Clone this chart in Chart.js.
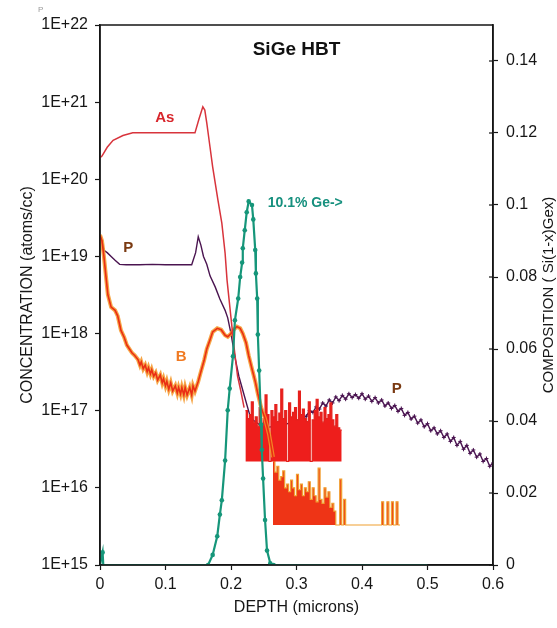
<!DOCTYPE html>
<html>
<head>
<meta charset="utf-8">
<script src="https://cdn.jsdelivr.net/npm/chart.js@4.4.1/dist/chart.umd.min.js"></script>
<style>
  body { margin: 0; background: #fff; }
  #wrap { width: 557px; height: 628px; }
</style>
</head>
<body>
<div id="wrap"><canvas id="sigeChart" width="557" height="628"></canvas></div>
<script>
// SIMS profile of a SiGe HBT
// depth in microns, concentration in atoms/cc, Ge as fraction

const asDepth = [0, 0.003, 0.011, 0.02, 0.035, 0.05, 0.08, 0.11, 0.145, 0.151, 0.157, 0.16, 0.163, 0.168, 0.172, 0.18, 0.186, 0.191, 0.194, 0.2, 0.205, 0.21, 0.215, 0.22];
const asConc = [1.9e20, 2.0e20, 2.6e20, 3.2e20, 3.7e20, 4.0e20, 4.0e20, 4.0e20, 4.0e20, 6.0e20, 8.7e20, 7.9e20, 5.4e20, 2.6e20, 1.45e20, 5.4e19, 2.7e19, 1.1e19, 4.9e18, 1.6e18, 6.3e17, 2.8e17, 1.8e17, 1.1e17];

// As at the detection limit (noisy block)
const asNoiseDepth = [0.222, 0.225, 0.228, 0.231, 0.234, 0.237, 0.24, 0.243, 0.246, 0.249, 0.252, 0.255, 0.258, 0.261, 0.264, 0.267, 0.27, 0.273, 0.276, 0.279, 0.282, 0.285, 0.288, 0.291, 0.294, 0.297, 0.3, 0.303, 0.306, 0.309, 0.312, 0.315, 0.318, 0.321, 0.324, 0.327, 0.33, 0.333, 0.336, 0.339, 0.342, 0.345, 0.348, 0.351, 0.354, 0.357, 0.36, 0.363, 0.366, 0.369];
const asNoiseConc = [1.0e17, 7.9e16, 8.9e16, 1.3e17, 7.1e16, 8.3e16, 6.3e16, 1.1e17, 6.0e16, 7.9e16, 1.6e17, 8.9e16, 2.2e16, 1.0e17, 8.3e16, 1.2e17, 7.2e16, 9.3e16, 1.9e17, 7.9e16, 1.0e17, 2.2e16, 1.26e17, 8.3e16, 9.5e16, 1.1e17, 7.6e16, 1.8e17, 8.9e16, 1.05e17, 7.9e16, 7.2e16, 1.3e17, 2.2e16, 7.6e16, 1.0e17, 1.4e17, 8.3e16, 9.5e16, 7.1e16, 1.1e17, 7.9e16, 8.9e16, 1.26e17, 7.6e16, 6.3e16, 8.9e16, 6.0e16, 5.6e16, 5.6e16];
const asFloor = 2.2e16;

const bDepth = [0, 0.003, 0.006, 0.009, 0.012, 0.017, 0.023, 0.027, 0.032, 0.037, 0.041, 0.045, 0.049, 0.053, 0.058, 0.061, 0.063, 0.066, 0.069, 0.072, 0.074, 0.077, 0.079, 0.082, 0.085, 0.088, 0.092, 0.095, 0.097, 0.1, 0.102, 0.105, 0.108, 0.111, 0.115, 0.118, 0.12, 0.123, 0.125, 0.128, 0.13, 0.133, 0.137, 0.14, 0.142, 0.145, 0.15, 0.154, 0.159, 0.163, 0.168, 0.172, 0.179, 0.185, 0.191, 0.195, 0.2, 0.205, 0.209, 0.214, 0.218, 0.223, 0.227, 0.232, 0.237, 0.241, 0.246, 0.252, 0.258, 0.264];
const bConc = [1.9e19, 1.6e19, 1.0e19, 5.6e18, 3.2e18, 2.2e18, 2.0e18, 1.7e18, 1.1e18, 8.9e17, 7.1e17, 6.3e17, 5.6e17, 5.2e17, 4.6e17, 3.9e17, 4.3e17, 3.5e17, 3.9e17, 3.2e17, 3.6e17, 3.0e17, 3.4e17, 2.8e17, 3.1e17, 2.5e17, 2.9e17, 2.3e17, 2.6e17, 2.1e17, 2.4e17, 1.9e17, 2.3e17, 1.8e17, 2.1e17, 1.7e17, 2.0e17, 1.65e17, 2.0e17, 1.6e17, 2.0e17, 1.6e17, 2.0e17, 1.6e17, 2.1e17, 1.8e17, 2.4e17, 3.2e17, 4.5e17, 6.3e17, 8.3e17, 1.05e18, 1.17e18, 1.12e18, 9.5e17, 9.1e17, 1.0e18, 1.15e18, 1.23e18, 1.17e18, 1.0e18, 7.6e17, 5.2e17, 3.5e17, 2.4e17, 1.66e17, 1.1e17, 7.9e16, 5.0e16, 2.5e16];

// B at the detection limit
const bNoiseDepth = [0.264, 0.267, 0.27, 0.273, 0.276, 0.279, 0.282, 0.285, 0.288, 0.291, 0.294, 0.297, 0.3, 0.303, 0.306, 0.309, 0.312, 0.315, 0.318, 0.321, 0.324, 0.327, 0.33, 0.333, 0.336, 0.339, 0.342, 0.345, 0.348, 0.351, 0.354, 0.357, 0.36, 0.363, 0.366, 0.369, 0.372, 0.375, 0.39, 0.41, 0.427, 0.43, 0.433, 0.438, 0.441, 0.445, 0.448, 0.452, 0.455, 0.458];
const bNoiseConc = [2.2e16, 1.6e16, 1.9e16, 1.26e16, 1.4e16, 1.66e16, 1.0e16, 1.12e16, 8.9e15, 1.26e16, 1.0e16, 7.9e15, 1.5e16, 9.5e15, 1.12e16, 7.9e15, 1.0e16, 8.9e15, 1.2e16, 7.1e15, 1.0e16, 7.9e15, 6.6e15, 1.8e16, 7.1e15, 6.3e15, 1.0e16, 7.6e15, 8.9e15, 5.6e15, 6.3e15, 5.0e15, 3.3e15, 3.3e15, 1.3e16, 3.3e15, 7.1e15, 3.3e15, 3.3e15, 3.3e15, 3.3e15, 6.6e15, 3.3e15, 6.6e15, 3.3e15, 6.6e15, 3.3e15, 6.6e15, 3.3e15, 3.3e15];
const bFloor = 3.3e15;

const pDepth = [0, 0.003, 0.006, 0.011, 0.017, 0.023, 0.03, 0.04, 0.06, 0.08, 0.1, 0.12, 0.14, 0.146, 0.15, 0.154, 0.158, 0.163, 0.168, 0.176, 0.183, 0.191, 0.195, 0.2, 0.204, 0.207, 0.212, 0.22, 0.23, 0.25, 0.28, 0.31,
  0.315, 0.32, 0.325, 0.33, 0.335, 0.34, 0.345, 0.35, 0.355, 0.36, 0.365, 0.37, 0.375, 0.38, 0.385, 0.39, 0.395, 0.4, 0.405, 0.41, 0.415, 0.42, 0.425, 0.43, 0.435, 0.44, 0.445, 0.45, 0.455, 0.46, 0.465, 0.47, 0.475, 0.48, 0.485, 0.49, 0.495, 0.5, 0.505, 0.51, 0.515, 0.52, 0.525, 0.53, 0.535, 0.54, 0.545, 0.55, 0.555, 0.56, 0.565, 0.57, 0.575, 0.58, 0.585, 0.59, 0.595, 0.6];
const pConc = [1.8e19, 1.6e19, 1.2e19, 1.12e19, 1.0e19, 8.9e18, 7.9e18, 7.8e18, 7.8e18, 7.9e18, 7.8e18, 7.8e18, 7.8e18, 1.12e19, 1.8e19, 1.4e19, 1.0e19, 7.9e18, 5.6e18, 4.0e18, 2.8e18, 2.0e18, 1.6e18, 1.0e18, 6.3e17, 4.5e17, 2.8e17, 1.6e17, 8.0e16, 6.0e16, 6.5e16, 8.0e16,
  8.5e16, 1.0e17, 9.5e16, 1.12e17, 1.05e17, 1.26e17, 1.15e17, 1.38e17, 1.26e17, 1.51e17, 1.35e17, 1.58e17, 1.41e17, 1.66e17, 1.48e17, 1.62e17, 1.45e17, 1.66e17, 1.41e17, 1.55e17, 1.32e17, 1.48e17, 1.26e17, 1.38e17, 1.15e17, 1.26e17, 1.07e17, 1.17e17, 9.8e16, 1.07e17, 8.7e16, 9.5e16, 7.8e16, 8.5e16, 6.9e16, 7.6e16, 6.2e16, 6.8e16, 5.5e16, 6.0e16, 5.0e16, 5.5e16, 4.5e16, 5.0e16, 4.0e16, 4.5e16, 3.55e16, 4.0e16, 3.16e16, 3.55e16, 2.8e16, 3.1e16, 2.5e16, 2.75e16, 2.2e16, 2.4e16, 1.9e16, 2.1e16];

const geDepth = [0, 0.004, 0.005, 0.165, 0.172, 0.179, 0.183, 0.186, 0.191, 0.195, 0.198, 0.203, 0.206, 0.211, 0.214, 0.217, 0.218, 0.221, 0.224, 0.227, 0.232, 0.234, 0.237, 0.238, 0.24, 0.241, 0.243, 0.246, 0.247, 0.249, 0.252, 0.255, 0.26, 0.265, 0.5];
const geFrac = [0, 0.0035, 0, 0, 0.0028, 0.008, 0.014, 0.018, 0.029, 0.043, 0.049, 0.058, 0.068, 0.074, 0.08, 0.084, 0.088, 0.093, 0.098, 0.101, 0.1, 0.096, 0.0875, 0.081, 0.074, 0.064, 0.054, 0.039, 0.032, 0.024, 0.0125, 0.004, 0.0005, 0, 0];

const concTicks = [1e15, 1e16, 1e17, 1e18, 1e19, 1e20, 1e21, 1e22];
const compTicks = [0, 0.02, 0.04, 0.06, 0.08, 0.1, 0.12, 0.14];

const ink = '#161616';
const family = "'Liberation Sans', Arial, sans-serif";
const axisFont = { family: family, size: 16 };

function toPoints(xs, ys) {
    return xs.map((x, i) => ({ x: x, y: ys[i] }));
}

// text drawn inside the plot, anchored to data values
const notes = [
    { text: 'SiGe HBT', depth: 0.3, conc: 4.8e21, color: '#111111', size: 19, align: 'center' },
    { text: 'As', depth: 0.099, conc: 6.2e20, color: '#d8262c', size: 15, align: 'center' },
    { text: 'P', depth: 0.043, conc: 1.3e19, color: '#7a3a12', size: 15, align: 'center' },
    { text: 'B', depth: 0.124, conc: 5.0e17, color: '#f07a22', size: 15, align: 'center' },
    { text: 'P', depth: 0.453, conc: 1.9e17, color: '#7a3a12', size: 15, align: 'center' },
    { text: '10.1% Ge->', depth: 0.256, conc: 4.9e19, color: '#16907e', size: 14, align: 'left' }
];

const decorPlugin = {
    id: 'decor',
    afterDatasetsDraw(chart) {
        const { ctx, scales } = chart;
        ctx.save();
        ctx.textBaseline = 'middle';
        notes.forEach(n => {
            ctx.font = 'bold ' + n.size + 'px ' + family;
            ctx.fillStyle = n.color;
            ctx.textAlign = n.align;
            ctx.fillText(n.text, scales.x.getPixelForValue(n.depth), scales.y.getPixelForValue(n.conc));
        });
        ctx.restore();
    },
    afterDraw(chart) {
        const { ctx, chartArea: a, scales } = chart;
        ctx.save();
        // box around the plot
        ctx.strokeStyle = ink;
        ctx.lineWidth = 1.5;
        ctx.strokeRect(a.left, a.top, a.right - a.left, a.bottom - a.top);
        // right axis ticks cross the axis line
        ctx.lineWidth = 1.2;
        compTicks.forEach(v => {
            const y = scales.y2.getPixelForValue(v);
            ctx.beginPath();
            ctx.moveTo(a.right - 4, y);
            ctx.lineTo(a.right, y);
            ctx.stroke();
        });
        // right axis title reads bottom to top
        ctx.fillStyle = ink;
        ctx.font = '15px ' + family;
        ctx.textAlign = 'center';
        ctx.textBaseline = 'middle';
        ctx.translate(549, (a.top + a.bottom) / 2);
        ctx.rotate(-Math.PI / 2);
        ctx.fillText('COMPOSITION ( Si(1-x)Gex)', 0, 0);
        ctx.restore();
        // small mark in the corner
        ctx.save();
        ctx.fillStyle = '#9a9a9a';
        ctx.font = '8px ' + family;
        ctx.fillText('P', 38, 12);
        ctx.restore();
    }
};

const ctx = document.getElementById('sigeChart').getContext('2d');

const sigeChart = new Chart(ctx, {
    type: 'line',
    data: {
        datasets: [
            {
                label: 'Ge',
                data: toPoints(geDepth, geFrac),
                yAxisID: 'y2',
                borderColor: '#16967a',
                backgroundColor: '#16967a',
                borderWidth: 2.2,
                pointRadius: c => (c.raw && c.raw.y === 0 && (c.raw.x < 0.01 || c.raw.x > 0.4)) ? 0 : 2.3,
                pointBorderWidth: 0,
                tension: 0
            },
            {
                label: 'As',
                data: toPoints(asDepth, asConc),
                borderColor: '#d8343c',
                borderWidth: 1.5,
                pointRadius: 0,
                tension: 0
            },
            {
                label: 'B',
                data: toPoints(bDepth, bConc),
                borderColor: '#ea2e14',
                borderWidth: 1.6,
                pointRadius: 0,
                tension: 0
            },
            {
                label: 'B halo',
                data: toPoints(bDepth, bConc),
                borderColor: 'rgba(244,150,40,0.85)',
                borderWidth: 4,
                pointRadius: 0,
                tension: 0
            },
            {
                label: 'As noise',
                data: toPoints(asNoiseDepth, asNoiseConc),
                borderColor: '#e4201c',
                backgroundColor: '#ee1e1c',
                borderWidth: 1.2,
                stepped: true,
                fill: { value: asFloor },
                pointRadius: 0
            },
            {
                label: 'P',
                data: toPoints(pDepth, pConc),
                borderColor: '#4a1450',
                borderWidth: 1.4,
                pointStyle: 'cross',
                pointRadius: c => (c.raw && c.raw.x > 0.31) ? 2 : 0,
                pointBorderColor: '#4a1450',
                pointBorderWidth: 1,
                tension: 0
            },
            {
                label: 'B noise',
                data: toPoints(bNoiseDepth, bNoiseConc),
                borderColor: '#f0a030',
                backgroundColor: '#ee3416',
                borderWidth: 1.2,
                stepped: true,
                fill: { value: bFloor },
                pointRadius: 0
            }
        ]
    },
    options: {
        responsive: false,
        animation: false,
        devicePixelRatio: 1,
        layout: { padding: { top: 25, left: 0, right: 0, bottom: 0 } },
        plugins: {
            legend: { display: false },
            tooltip: { enabled: false }
        },
        scales: {
            x: {
                type: 'linear',
                position: 'bottom',
                min: 0,
                max: 0.6,
                ticks: {
                    stepSize: 0.1,
                    color: ink,
                    font: axisFont,
                    padding: 5,
                    callback: v => String(+v.toFixed(1))
                },
                grid: { drawOnChartArea: false, tickLength: 5, color: ink, tickWidth: 1.2 },
                border: { color: ink, width: 1.5 },
                title: { display: true, text: 'DEPTH (microns)', color: ink, font: axisFont, padding: { top: 2, bottom: 11 } },
                afterFit: s => { s.height = 63; }
            },
            y: {
                type: 'logarithmic',
                position: 'left',
                min: 1e15,
                max: 1e22,
                afterBuildTicks: s => { s.ticks = concTicks.map(v => ({ value: v })); },
                ticks: {
                    color: ink,
                    font: axisFont,
                    padding: 7,
                    callback: v => '1E+' + Math.round(Math.log10(v))
                },
                grid: { drawOnChartArea: false, tickLength: 5, color: ink, tickWidth: 1.2 },
                border: { color: ink, width: 1.5 },
                title: { display: true, text: 'CONCENTRATION (atoms/cc)', color: ink, font: axisFont, padding: { top: 18, bottom: 4 } },
                afterFit: s => { s.width = 100; }
            },
            y2: {
                type: 'linear',
                position: 'right',
                min: 0,
                max: 0.15,
                afterBuildTicks: s => { s.ticks = compTicks.map(v => ({ value: v })); },
                ticks: {
                    color: ink,
                    font: axisFont,
                    padding: 8,
                    callback: v => String(+v.toFixed(2))
                },
                grid: { drawOnChartArea: false, tickLength: 5, color: ink, tickWidth: 1.2 },
                border: { color: ink, width: 1.5 },
                afterFit: s => { s.width = 64; }
            }
        }
    },
    plugins: [decorPlugin]
});
</script>
</body>
</html>
